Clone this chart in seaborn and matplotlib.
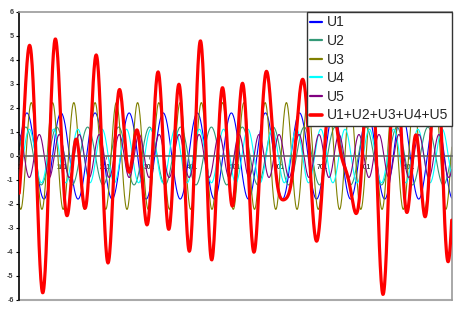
import numpy as np
import pandas as pd
import matplotlib
matplotlib.use("Agg")
import matplotlib.pyplot as plt
import seaborn as sns

# ---- data (components of the sum) ----
series_names = ["U1", "U2", "U3", "U4", "U5"]
amplitudes = [1.794, 1.205, 2.226, 1.116, 0.896]
periods = [78.7, 71.45, 49.1, 56.1, 46.15]        # in samples
phases = [0.145, 0.231, -2.009, -1.047, 1.538]     # radians
n_points = 1000
sum_name = "U1+U2+U3+U4+U5"
xtick_values = [1, 101, 201, 301, 401, 501, 601, 701, 801, 901]
ytick_values = [-6, -5, -4, -3, -2, -1, 0, 1, 2, 3, 4, 5, 6]

colors = {"U1": "#0000FF", "U2": "#339977", "U3": "#808000",
          "U4": "#00FFFF", "U5": "#800080", sum_name: "#FF0000"}

sample = np.arange(n_points)
frames = []
total = np.zeros(n_points)
for name, a, p, ph in zip(series_names, amplitudes, periods, phases):
    u = a * np.sin(2 * np.pi * sample / p + ph)
    total = total + u
    frames.append(pd.DataFrame({"x": sample + 1, "y": u, "series": name}))
frames.append(pd.DataFrame({"x": sample + 1, "y": total, "series": sum_name}))
df = pd.concat(frames, ignore_index=True)

sns.set_style("white")
plt.rcParams["font.family"] = ["Liberation Sans", "DejaVu Sans"]

fig = plt.figure(figsize=(4.65, 3.15), dpi=100)
W, H = 465, 315
ax = fig.add_axes([19.2 / W, (H - 300) / H, (451.7 - 19.2) / W, 288 / H])
ax.set_axisbelow(True)

handles = []
for name in series_names + [sum_name]:
    sub = df[df["series"] == name]
    lw = 2.3 if name == sum_name else 0.8
    sns.lineplot(data=sub, x="x", y="y", color=colors[name], lw=lw, ax=ax,
                 legend=False, zorder=3 if name == sum_name else 2)
    handles.append(plt.Line2D([], [], color=colors[name],
                              lw=2.6 if name == sum_name else 1.6, label=name))

ax.set_xlim(1, n_points)
ax.set_ylim(-6, 6)
ax.set_xlabel("")
ax.set_ylabel("")

for s in ["top", "right"]:
    ax.spines[s].set_color("#999999")
    ax.spines[s].set_linewidth(1.2)
ax.spines["left"].set_color("black")
ax.spines["left"].set_linewidth(1.2)
ax.spines["bottom"].set_position(("data", 0))
ax.spines["bottom"].set_color("#666666")
ax.spines["bottom"].set_linewidth(1.2)
ax.plot([0, 1], [0, 0], transform=ax.transAxes, color="#aaaaaa", lw=1.5,
        clip_on=False, zorder=1)

ax.set_yticks(ytick_values)
ax.set_yticklabels([str(v) for v in ytick_values])
ax.set_xticks(xtick_values)
ax.set_xticklabels([str(v) for v in xtick_values])
ax.tick_params(axis="y", direction="out", length=2.5, width=0.8, pad=1.5,
               labelsize=5.2, labelcolor="#404040", color="black", left=True)
ax.tick_params(axis="x", direction="out", length=2, width=0.6, pad=3.5,
               labelsize=4.8, labelcolor="#404040", color="#666666", bottom=True)
for lab in ax.get_xticklabels() + ax.get_yticklabels():
    lab.set_fontweight("bold")

leg = ax.legend(handles=handles, loc="upper right", bbox_to_anchor=(1.0, 1.0),
                borderaxespad=0.0, frameon=True, fancybox=False, fontsize=10,
                handlelength=0.85, handletextpad=0.35, labelspacing=0.33,
                borderpad=0.25)
leg.get_frame().set_edgecolor("#333333")
leg.get_frame().set_linewidth(1.0)
leg.get_frame().set_alpha(1.0)
leg.set_zorder(10)

fig.savefig("out.png", dpi=100)
